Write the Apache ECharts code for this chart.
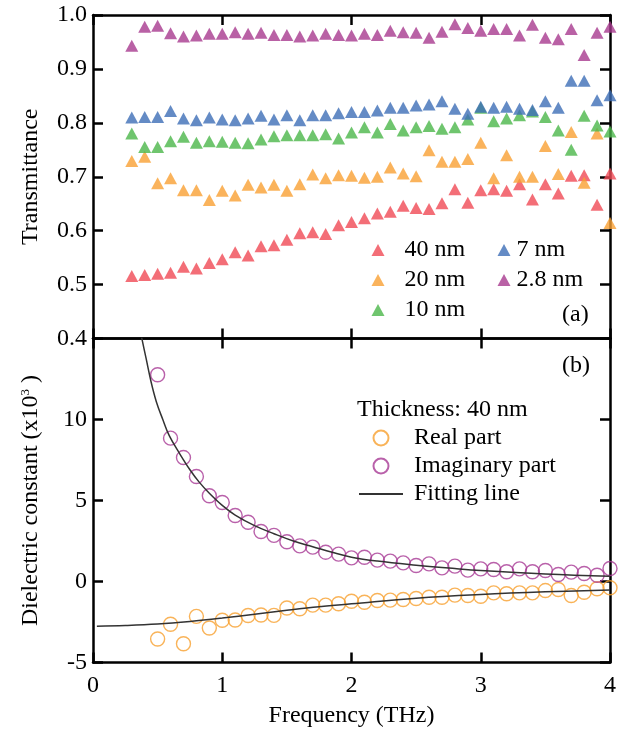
<!DOCTYPE html>
<html><head><meta charset="utf-8">
<script src="https://cdn.jsdelivr.net/npm/echarts@6/dist/echarts.min.js"></script>
<style>html,body{margin:0;padding:0;background:#fff}#c{width:625px;height:729px}
#fl{position:absolute;left:0;top:0;font-family:'Liberation Serif';font-size:24px;color:#fff;opacity:0.01;pointer-events:none}</style>
</head><body><div id="fl">Frequency 0123456789</div><div id="c"></div>
<script>
// ---- Panel (a): transmittance ----
const freqT = [0.3,0.4,0.5,0.6,0.7,0.8,0.9,1.0,1.1,1.2,1.3,1.4,1.5,1.6,1.7,1.8,1.9,2.0,
  2.1,2.2,2.3,2.4,2.5,2.6,2.7,2.8,2.9,3.0,3.1,3.2,3.3,3.4,3.5,3.6,3.7,3.8,3.9,4.0];
const t40 = [0.516,0.518,0.520,0.522,0.533,0.530,0.540,0.547,0.560,0.554,0.571,0.573,0.583,0.595,0.597,0.594,0.610,0.616,
  0.623,0.632,0.635,0.646,0.642,0.640,0.651,0.677,0.652,0.675,0.677,0.674,0.686,0.658,0.686,0.669,0.702,0.703,0.648,0.706];
const t20 = [0.729,0.737,0.688,0.697,0.675,0.675,0.657,0.674,0.665,0.685,0.680,0.685,0.674,0.686,0.704,0.697,0.703,0.702,
  0.698,0.700,0.717,0.706,0.701,0.749,0.728,0.728,0.733,0.763,0.697,0.740,0.700,0.700,0.757,0.705,0.783,0.689,0.780,0.614];
const t10 = [0.780,0.755,0.755,0.766,0.774,0.763,0.766,0.765,0.763,0.762,0.769,0.775,0.777,0.777,0.777,0.779,0.771,0.782,
  0.792,0.782,0.798,0.786,0.792,0.794,0.789,0.792,0.806,0.828,0.803,0.808,0.814,0.821,0.811,0.786,0.750,0.813,0.795,0.784];
const t7 = [0.810,0.811,0.811,0.822,0.808,0.805,0.810,0.806,0.805,0.808,0.813,0.806,0.814,0.805,0.814,0.814,0.818,0.820,
  0.820,0.823,0.828,0.828,0.832,0.834,0.840,0.826,0.817,0.830,0.828,0.830,0.826,0.824,0.840,0.828,0.878,0.878,0.842,0.851];
const t28 = [0.943,0.978,0.980,0.966,0.960,0.962,0.965,0.965,0.968,0.965,0.967,0.963,0.963,0.960,0.962,0.965,0.963,0.962,
  0.965,0.963,0.971,0.968,0.967,0.958,0.969,0.983,0.976,0.971,0.974,0.974,0.962,0.982,0.958,0.955,0.974,0.926,0.967,0.978];

// ---- Panel (b): dielectric constant (x10^3) ----
const freqE = [0.5,0.6,0.7,0.8,0.9,1.0,1.1,1.2,1.3,1.4,1.5,1.6,1.7,1.8,1.9,2.0,
  2.1,2.2,2.3,2.4,2.5,2.6,2.7,2.8,2.9,3.0,3.1,3.2,3.3,3.4,3.5,3.6,3.7,3.8,3.9,4.0];
const realPart = [-3.55,-2.64,-3.84,-2.15,-2.87,-2.39,-2.38,-2.10,-2.07,-2.09,-1.64,-1.68,-1.46,-1.46,-1.37,-1.22,
  -1.28,-1.17,-1.15,-1.11,-1.05,-0.97,-0.97,-0.84,-0.86,-0.91,-0.70,-0.76,-0.70,-0.70,-0.56,-0.49,-0.86,-0.66,-0.45,-0.39];
const imagPart = [12.76,8.85,7.65,6.48,5.29,4.88,4.07,3.66,3.09,2.85,2.45,2.20,2.12,1.81,1.69,1.46,
  1.50,1.32,1.26,1.15,0.99,1.09,0.84,0.95,0.70,0.78,0.74,0.60,0.78,0.60,0.68,0.43,0.58,0.49,0.39,0.80];
// fitting lines
const imagFitX = [0.37,0.41,0.45,0.49,0.54,0.59,0.67,0.75,0.82,0.90,1.00,1.10,1.25,1.40,1.55,1.70,1.85,2.00,2.20,2.50,2.80,3.00,3.50,4.00];
const imagFitY = [15.3,13.8,12.3,11.1,10.0,9.0,7.9,6.9,6.15,5.45,4.7,4.1,3.45,2.95,2.5,2.15,1.8,1.5,1.26,1.01,0.8,0.68,0.47,0.33];
const realFitX = [0.03,0.25,0.50,0.75,1.00,1.25,1.50,1.75,2.00,2.50,3.00,3.50,4.00];
const realFitY = [-2.76,-2.72,-2.63,-2.47,-2.26,-2.02,-1.78,-1.56,-1.38,-1.03,-0.80,-0.64,-0.53];

const xTicksT = [0,1,2,3,4];
const yLabelsT = ['0.4','0.5','0.6','0.7','0.8','0.9','1.0'];
const yLabelsE = ['-5','0','5','10'];

const FONT = 'Liberation Serif';
const zip = (xs, ys) => xs.map((x, i) => [x, ys[i]]);

const axLine = {show: true, onZero: false, lineStyle: {color: '#000', width: 2.5}};
const axTick = {show: true, inside: true, length: 10, lineStyle: {color: '#000', width: 2.5}};
const noLabel = {show: false};
const lab = (extra) => Object.assign({show: true, color: '#000', fontFamily: FONT, fontSize: 24, showMinLabel: true, showMaxLabel: true}, extra);

function xAxis(grid, pos, withLabels, name) {
  const a = {type: 'value', gridIndex: grid, position: pos, min: xTicksT[0], max: xTicksT[xTicksT.length - 1], interval: 1,
    axisLine: axLine, axisTick: axTick, splitLine: {show: false},
    axisLabel: withLabels ? lab({margin: 11}) : noLabel};
  if (name) {
    a.name = name; a.nameLocation = 'middle'; a.nameGap = 41;
    a.nameTextStyle = {color: '#000', fontFamily: FONT, fontSize: 24};
    a.nameMoveOverlap = false;
  }
  return a;
}
function yAxis(grid, pos, min, max, interval, labels, name, gap) {
  const a = {type: 'value', gridIndex: grid, position: pos, min: min, max: max, interval: interval,
    axisLine: axLine, axisTick: axTick, splitLine: {show: false},
    axisLabel: labels ? lab({margin: 6, formatter: (v) => {
      const s = (interval < 1) ? v.toFixed(1) : String(Math.round(v));
      return labels.indexOf(s) >= 0 ? s : '';
    }}) : noLabel};
  if (name) {
    a.name = name; a.nameLocation = 'middle'; a.nameGap = gap; a.nameRotate = 90;
    a.nameMoveOverlap = false;
    a.nameTextStyle = {color: '#000', fontFamily: FONT, fontSize: 24,
      rich: {sup: {fontFamily: FONT, fontSize: 13, lineHeight: 13, verticalAlign: 'top', padding: [0, 0, 26, 0], color: '#000'}}};
  }
  return a;
}

const tri = (name, data, color) => ({name: name, type: 'scatter', xAxisIndex: 0, yAxisIndex: 0,
  data: zip(freqT, data), symbol: 'triangle', symbolSize: [13, 12], itemStyle: {color: color}});
const ring = (name, data, color) => ({name: name, type: 'scatter', xAxisIndex: 2, yAxisIndex: 2,
  data: zip(freqE, data), symbol: 'circle', symbolSize: 14,
  itemStyle: {color: 'rgba(255,255,255,0)', borderColor: color, borderWidth: 1.4}});
const fit = (xs, ys) => ({name: 'Fitting line', type: 'line', xAxisIndex: 2, yAxisIndex: 2,
  data: zip(xs, ys), smooth: 0.4, symbol: 'none', showSymbol: false, clip: true,
  lineStyle: {color: '#333', width: 1.5}, itemStyle: {color: 'rgba(0,0,0,0)', borderWidth: 0}});

const legendText = {color: '#000', fontFamily: FONT, fontSize: 24};

const option = {
  backgroundColor: '#fff',
  animation: false,
  grid: [
    {left: 93, top: 15, width: 517, height: 323.5, containLabel: false, outerBoundsMode: 'none'},
    {left: 93, top: 338.5, width: 517, height: 324, containLabel: false, outerBoundsMode: 'none'}
  ],
  xAxis: [
    xAxis(0, 'bottom', false), xAxis(0, 'top', false),
    xAxis(1, 'bottom', true, 'Frequency (THz)'), xAxis(1, 'top', false)
  ],
  yAxis: [
    yAxis(0, 'left', 0.4, 1.0, 0.1, yLabelsT, 'Transmittance', 50),
    yAxis(0, 'right', 0.4, 1.0, 0.1, null),
    yAxis(1, 'left', -5, 15, 5, yLabelsE, 'Dielectric constant (x10{sup|3} )', 50),
    yAxis(1, 'right', -5, 15, 5, null)
  ],
  legend: [
    {data: ['40 nm', '20 nm', '10 nm'], orient: 'vertical', left: 371.5, top: 238, padding: 0,
      itemWidth: 13, itemHeight: 12, itemGap: 6, textStyle: Object.assign({padding: [0, 0, 0, 15]}, legendText), selectedMode: false},
    {data: ['7 nm', '2.8 nm'], orient: 'vertical', left: 497.5, top: 238, padding: 0,
      itemWidth: 13, itemHeight: 12, itemGap: 6, textStyle: Object.assign({padding: [0, 0, 0, 1]}, legendText), selectedMode: false},
    {data: ['Real part', 'Imaginary part', 'Fitting line'], orient: 'vertical', left: 358, top: 426, padding: 0,
      itemWidth: 44, itemHeight: 15, itemGap: 4, textStyle: Object.assign({padding: [0, 0, 0, 6]}, legendText), selectedMode: false}
  ],
  graphic: [
    {type: 'text', left: 357, top: 398, style: {text: 'Thickness: 40 nm', fontFamily: FONT, fontSize: 24, fill: '#000'}},
    {type: 'text', left: 562, top: 303, style: {text: '(a)', fontFamily: FONT, fontSize: 24, fill: '#000'}},
    {type: 'text', left: 562, top: 354, style: {text: '(b)', fontFamily: FONT, fontSize: 24, fill: '#000'}}
  ],
  series: [
    tri('40 nm', t40, '#f04a55'),
    tri('20 nm', t20, '#f9a033'),
    tri('10 nm', t10, '#4bb74a'),
    tri('7 nm', t7, '#3d6eb7'),
    tri('2.8 nm', t28, '#a8398f'),
    fit(imagFitX, imagFitY),
    fit(realFitX, realFitY),
    ring('Real part', realPart, '#f8a030'),
    ring('Imaginary part', imagPart, '#a83a95')
  ]
};
let drawn = false;
function draw() {
  if (drawn) return; drawn = true;
  const chart = echarts.init(document.getElementById('c'));
  chart.setOption(option);
}
if (document.fonts && document.fonts.load) {
  Promise.all([document.fonts.load('24px "Liberation Serif"'), document.fonts.load('13px "Liberation Serif"')])
    .then(draw, draw);
  setTimeout(draw, 1500);
} else {
  draw();
}
</script></body></html>
